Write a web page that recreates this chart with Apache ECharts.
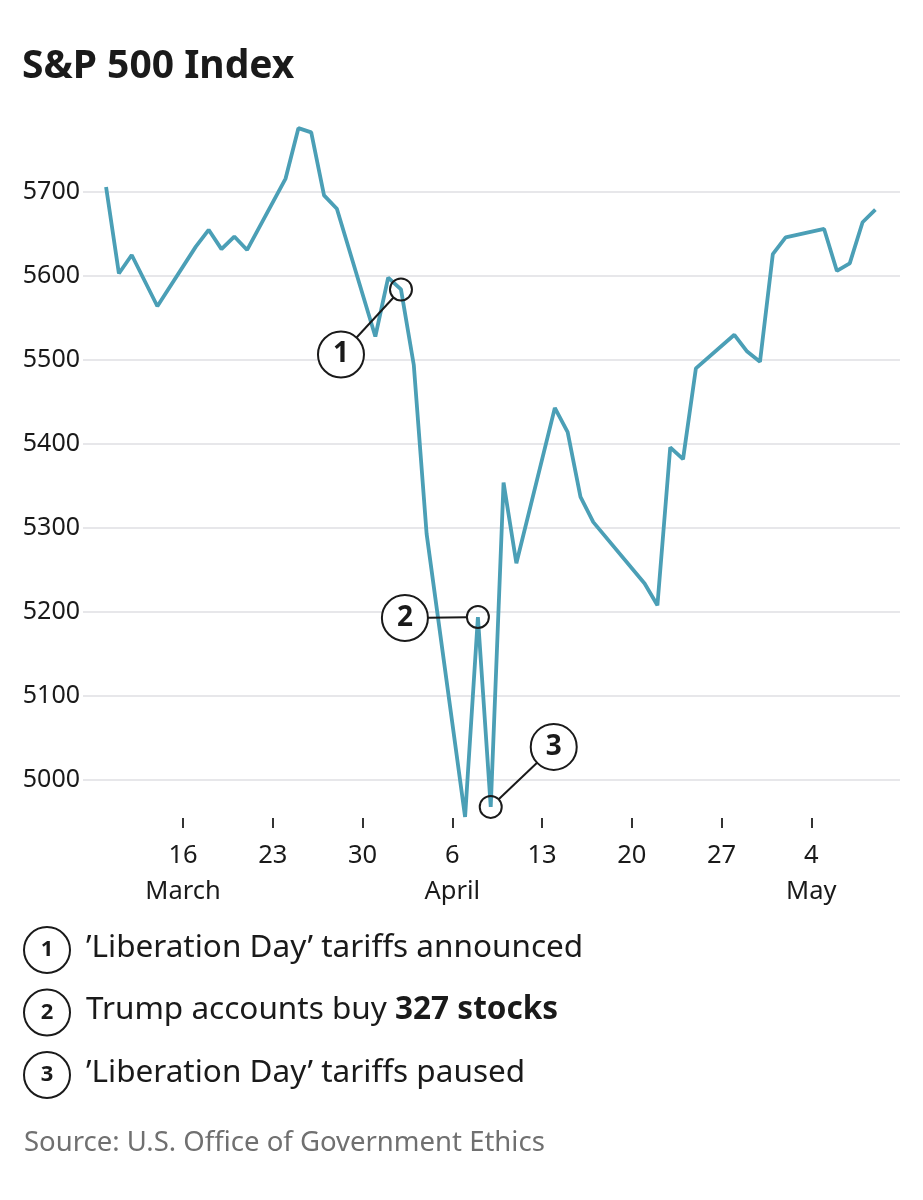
<!DOCTYPE html>
<html>
<head>
<meta charset="utf-8">
<title>S&amp;P 500 Index</title>
<script src="https://cdn.jsdelivr.net/npm/echarts@6/dist/echarts.min.js"></script>
<style>
html,body{margin:0;padding:0;background:#fff;}
#chartDiv{width:923px;height:1200px;}
</style>
</head>
<body>
<div id="chartDiv"></div>
<script>
// trading days
var dates = ['2025-03-10','2025-03-11','2025-03-12','2025-03-14','2025-03-17','2025-03-18','2025-03-19','2025-03-20','2025-03-21',
    '2025-03-24','2025-03-25','2025-03-26','2025-03-27','2025-03-28','2025-03-31',
    '2025-04-01','2025-04-02','2025-04-03','2025-04-04','2025-04-07','2025-04-08','2025-04-09','2025-04-10','2025-04-11',
    '2025-04-14','2025-04-15','2025-04-16','2025-04-17','2025-04-21','2025-04-22','2025-04-23','2025-04-24','2025-04-25',
    '2025-04-28','2025-04-29','2025-04-30','2025-05-01','2025-05-02','2025-05-05','2025-05-06','2025-05-07','2025-05-08','2025-05-09'];
var index = [5706,5603,5625,5564,5635,5655,5632,5647,5631,
    5716,5776,5771,5696,5680,5528,
    5598,5584,5494,5293,4956,5194,4968,5354,5258,
    5443,5414,5337,5307,5234,5208,5396,5382,5490,
    5530,5510,5498,5626,5646,5656,5606,5615,5664,5679];

var tickDates = ['2025-03-16','2025-03-23','2025-03-30','2025-04-06','2025-04-13','2025-04-20','2025-04-27','2025-05-04'];
var tickDays = ['16','23','30','6','13','20','27','4'];
var tickMonths = ['March','','','April','','','','May'];

var noteDates = ['2025-04-02','2025-04-08','2025-04-09'];
var noteNums = ['1','2','3'];
var noteTexts = [
    '’Liberation Day’ tariffs announced',
    'Trump accounts buy {b|327 stocks}',
    '’Liberation Day’ tariffs paused'
];

var DAY = 86400000;
var ts = function(s){ return Date.parse(s + 'T00:00:00Z'); };

var myChart = echarts.init(document.getElementById('chartDiv'));

var lineData = dates.map(function(d, i){ return [ts(d), index[i]]; });
var noteData = noteDates.map(function(d){ return [ts(d), index[dates.indexOf(d)]]; });
var tickTs = tickDates.map(ts);
// where each numbered bubble sits, relative to its point (px)
var calloutOffsets = [[-60, 65], [-73, 1], [63, -60]];

var ink = '#1a1a1a';
var font = '"Noto Sans", "Open Sans", sans-serif';

var getOption = function(){
    var legend = [];
    noteNums.forEach(function(n, i){
        var cy = 950 + i * 62.5;
        legend.push({type:'circle', shape:{cx:47, cy:cy, r:23}, style:{fill:'#fff', stroke:ink, lineWidth:2}});
        legend.push({type:'text', x:47, y:cy, style:{text:n, font:'bold 22px ' + font, fill:ink, align:'center', verticalAlign:'middle'}});
        legend.push({type:'text', x:86, y:cy - 2, style:{
            text:noteTexts[i], font:'31.5px ' + font, fill:ink, verticalAlign:'middle',
            rich:{b:{fontWeight:'bold', fontSize:31.5, fontFamily:font, fill:ink}}
        }});
    });

    var option = {
        animation: false,
        grid: {left: 83, right: 23, top: 108, bottom: 336, outerBoundsMode: 'none'},
        xAxis: {
            type: 'value',
            min: ts('2025-03-16') - 7.8 * DAY,
            max: ts('2025-03-16') + 55.92 * DAY,
            offset: -46,
            axisLine: {show: false},
            splitLine: {show: false},
            axisTick: {show: true, length: 10, customValues: tickTs,
                lineStyle: {color: '#333', width: 2}},
            axisLabel: {
                customValues: tickTs,
                margin: 20,
                fontFamily: '"Noto Sans", sans-serif',
                fontSize: 25.5,
                lineHeight: 36,
                color: ink,
                verticalAlign: 'top',
                formatter: function(val){
                    var k = tickTs.indexOf(val);
                    if (k < 0) return '';
                    return tickMonths[k] ? tickDays[k] + '\n' + tickMonths[k] : tickDays[k];
                }
            }
        },
        yAxis: {
            type: 'value',
            min: 4900,
            max: 5800,
            interval: 100,
            axisLine: {show: false},
            axisTick: {show: false},
            axisLabel: {showMinLabel: false, showMaxLabel: false, margin: 3,
                fontFamily: font, fontSize: 25, color: ink,
                formatter: function(v){ return String(v); }},
            splitLine: {show: true, showMinLine: false, showMaxLine: false,
                lineStyle: {color: '#dfdfe3', width: 1.5}}
        },
        series: [
            {
                type: 'line',
                data: lineData,
                symbol: 'none',
                lineStyle: {color: '#4b9fb6', width: 3.8},
                z: 2
            },
            {
                type: 'custom',
                data: noteData,
                clip: false,
                z: 5,
                renderItem: function(params, api){
                    var i = params.dataIndex;
                    var p = api.coord([api.value(0), api.value(1)]);
                    var off = calloutOffsets[i];
                    var c = [p[0] + off[0], p[1] + off[1]];
                    var len = Math.sqrt(off[0] * off[0] + off[1] * off[1]);
                    var ux = off[0] / len, uy = off[1] / len;
                    return {type: 'group', children: [
                        {type: 'line', shape: {x1: p[0] + ux * 11, y1: p[1] + uy * 11, x2: c[0] - ux * 23, y2: c[1] - uy * 23},
                            style: {stroke: ink, lineWidth: 2}},
                        {type: 'circle', shape: {cx: p[0], cy: p[1], r: 11}, style: {fill: 'transparent', stroke: ink, lineWidth: 2}},
                        {type: 'circle', shape: {cx: c[0], cy: c[1], r: 23}, style: {fill: '#fff', stroke: ink, lineWidth: 2}},
                        {type: 'text', x: c[0], y: c[1], style: {text: noteNums[i], font: 'bold 28px ' + font,
                            fill: ink, align: 'center', verticalAlign: 'middle'}}
                    ]};
                }
            }
        ],
        graphic: [
            {type: 'text', x: 22, y: 67, style: {text: 'S&P 500 Index', font: 'bold 39px ' + font, fill: ink, verticalAlign: 'middle'}},
            {type: 'text', x: 24, y: 1143, style: {text: 'Source: U.S. Office of Government Ethics', font: '27.5px ' + font, fill: '#707070', verticalAlign: 'middle'}}
        ].concat(legend)
    };
    return option;
};

myChart.setOption(getOption());
</script>
</body>
</html>
